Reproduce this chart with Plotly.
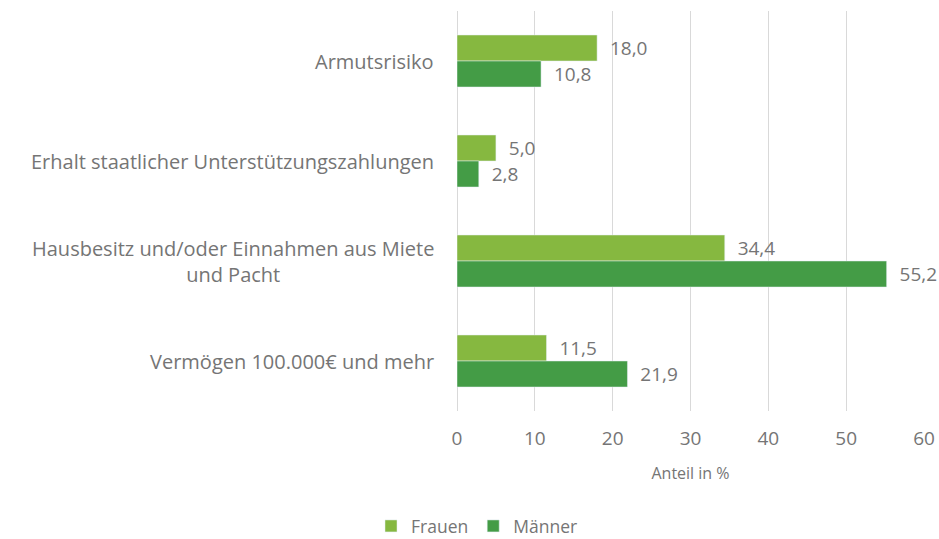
import plotly.graph_objects as go

categories = ["Armutsrisiko",
              "Erhalt staatlicher Unterstützungszahlungen",
              "Hausbesitz und/oder Einnahmen aus Miete<br>und Pacht",
              "Vermögen 100.000€ und mehr"]
frauen = [18.0, 5.0, 34.4, 11.5]
maenner = [10.8, 2.8, 55.2, 21.9]
x_ticks = [0, 10, 20, 30, 40, 50, 60]

FONT = "Open Sans"
GRAY = "#757575"

fig = go.Figure()
fig.add_trace(go.Bar(y=categories, x=frauen, name="Frauen", orientation="h",
                     marker_color="#86B840",
                     texttemplate="  %{x:.1f}", textposition="outside",
                     textfont=dict(size=19, color=GRAY, family=FONT),
                     cliponaxis=False))
fig.add_trace(go.Bar(y=categories, x=maenner, name="Männer", orientation="h",
                     marker_color="#449C46",
                     texttemplate="  %{x:.1f}", textposition="outside",
                     textfont=dict(size=19, color=GRAY, family=FONT),
                     cliponaxis=False))

for c in categories:
    fig.add_annotation(x=-0.045, xref="paper", y=c, yref="y", text=c,
                       showarrow=False, xanchor="right", align="center",
                       font=dict(size=20, color=GRAY, family=FONT))

fig.update_layout(
    width=939, height=539, autosize=False,
    barmode="group", bargap=0.48, bargroupgap=0,
    separators=",.",
    plot_bgcolor="white", paper_bgcolor="white",
    margin=dict(l=457, r=15, t=11, b=128, autoexpand=False),
    font=dict(family=FONT, color=GRAY),
    uniformtext=dict(mode=False),
    xaxis=dict(range=[0, 60], tickvals=x_ticks, showgrid=True, automargin=False,
               gridcolor="#D9D9D9", gridwidth=1, zeroline=True,
               zerolinecolor="#D9D9D9", zerolinewidth=1,
               ticks="outside", ticklen=10, tickcolor="rgba(0,0,0,0)",
               tickfont=dict(size=19, color=GRAY, family=FONT),
               title=dict(text="Anteil in %", font=dict(size=16, color=GRAY, family=FONT),
                          standoff=18)),
    yaxis=dict(autorange="reversed", showticklabels=False, showgrid=False,
               zeroline=False, automargin=False),
    legend=dict(orientation="h", xref="container", yref="container",
                x=0.508, xanchor="center", y=0.024, yanchor="middle",
                font=dict(size=17.5, color=GRAY, family=FONT),
                itemwidth=30, traceorder="normal"),
)

fig.write_html("out.html",
               config={"displayModeBar": False, "responsive": False},
               post_script="document.body.style.margin='0';"
                           "document.body.style.overflow='hidden';")
